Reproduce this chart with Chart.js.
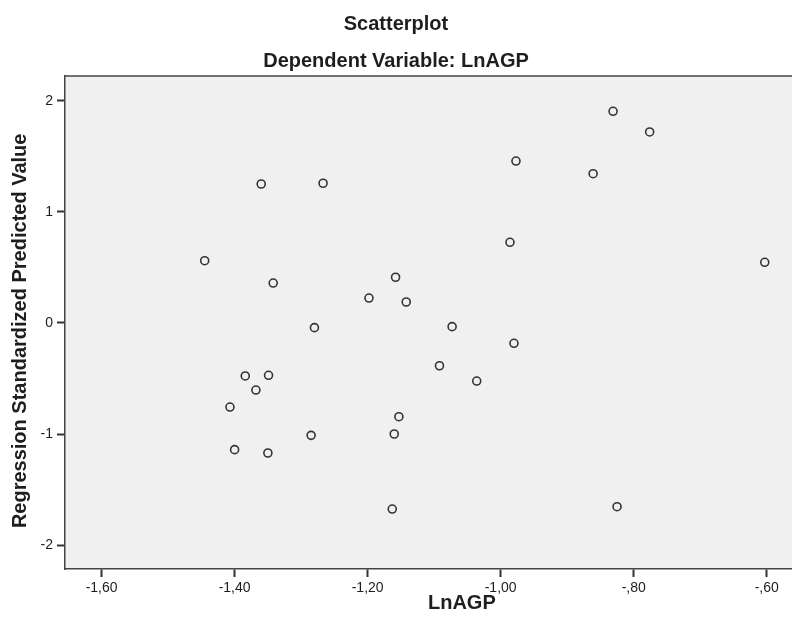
<!DOCTYPE html>
<html>
<head>
<meta charset="utf-8">
<title>Scatterplot</title>
<script src="https://cdn.jsdelivr.net/npm/chart.js@4.4.1/dist/chart.umd.min.js"></script>
<style>
    html, body { margin: 0; padding: 0; background: #ffffff; }
    #wrap { width: 792px; height: 628px; position: relative; }
</style>
</head>
<body>
<div id="wrap"><canvas id="chart"></canvas></div>
<script>
// values
var lnAGP = [-0.831, -0.776, -0.977, -0.861, -1.360, -1.267, -0.986, -1.445, -0.603, -1.158,
             -1.342, -1.198, -1.142, -1.280, -1.073, -0.980, -1.092, -1.384, -1.349, -1.036,
             -1.368, -1.407, -1.153, -1.285, -1.160, -1.400, -1.350, -1.163, -0.825];
var predicted = [1.907, 1.721, 1.459, 1.345, 1.252, 1.259, 0.727, 0.561, 0.547, 0.412,
                 0.360, 0.225, 0.189, -0.042, -0.033, -0.183, -0.385, -0.477, -0.471, -0.523,
                 -0.604, -0.757, -0.844, -1.012, -1.000, -1.141, -1.171, -1.676, -1.655];
var xTicks = [-1.6, -1.4, -1.2, -1.0, -0.8, -0.6];
var yTicks = [-2, -1, 0, 1, 2];

var points = lnAGP.map(function(x, i) {
    return { x: x, y: predicted[i] };
});

// SPSS style: comma decimals, no leading zero
var spssLabel = function(v) {
    var s = Math.abs(v).toFixed(2).replace('.', ',');
    if (s.charAt(0) === '0') s = s.substring(1);
    return (v < 0 ? '-' : '') + s;
};

var frameColor = '#444444';
var textColor = '#1e1e1e';
var fontFamily = '"Liberation Sans", Arial, sans-serif';

// grey plot background plus the top edge of the frame
var plotFrame = {
    id: 'plotFrame',
    beforeDraw: function(chart) {
        var a = chart.chartArea;
        var ctx = chart.ctx;
        ctx.save();
        ctx.fillStyle = '#f0f0f0';
        ctx.fillRect(a.left, a.top, a.right - a.left, a.bottom - a.top);
        ctx.strokeStyle = frameColor;
        ctx.lineWidth = 1.5;
        ctx.beginPath();
        ctx.moveTo(a.left, a.top);
        ctx.lineTo(a.right, a.top);
        ctx.stroke();
        ctx.restore();
    }
};

var ctx = document.getElementById('chart').getContext('2d');
var chart = new Chart(ctx, {
    type: 'scatter',
    data: {
        datasets: [
            {
                label: 'LnAGP',
                data: points,
                pointRadius: 4,
                pointHoverRadius: 4,
                pointBorderWidth: 1.6,
                pointBorderColor: '#333333',
                pointBackgroundColor: 'rgba(0,0,0,0)'
            }
        ]
    },
    plugins: [plotFrame],
    options: {
        responsive: true,
        maintainAspectRatio: false,
        animation: false,
        // the original plot runs off the right edge, so no room kept for point overflow
        layout: { padding: 0, autoPadding: false },
        scales: {
            x: {
                type: 'linear',
                min: -1.655,
                max: -0.562,
                afterBuildTicks: function(scale) {
                    scale.ticks = xTicks.map(function(v) { return { value: v }; });
                },
                afterFit: function(scale) {
                    scale.height = 59;
                    scale.paddingRight = 0;
                },
                grid: {
                    drawOnChartArea: false,
                    drawTicks: true,
                    tickLength: 8,
                    tickWidth: 2,
                    tickColor: '#333333'
                },
                border: { display: true, color: frameColor, width: 1.5 },
                ticks: {
                    padding: 3,
                    color: textColor,
                    font: { family: fontFamily, size: 14 },
                    maxRotation: 0,
                    callback: function(v) { return spssLabel(v); }
                },
                title: {
                    display: true,
                    // leading spaces push it right, the original plot was wider than the crop
                    text: '            LnAGP',
                    color: textColor,
                    font: { family: fontFamily, size: 20, weight: 'bold', lineHeight: 1.2 },
                    padding: { top: 0, bottom: 13 }
                }
            },
            y: {
                type: 'linear',
                min: -2.216,
                max: 2.225,
                afterBuildTicks: function(scale) {
                    scale.ticks = yTicks.map(function(v) { return { value: v }; });
                },
                afterFit: function(scale) {
                    scale.width = 65;
                },
                grid: {
                    drawOnChartArea: false,
                    drawTicks: true,
                    tickLength: 8,
                    tickWidth: 2,
                    tickColor: '#333333'
                },
                border: { display: true, color: frameColor, width: 1.5 },
                ticks: {
                    padding: 4,
                    color: textColor,
                    font: { family: fontFamily, size: 14 },
                    callback: function(v) { return String(v); }
                },
                title: {
                    display: true,
                    text: 'Regression Standardized Predicted Value   ',
                    color: textColor,
                    font: { family: fontFamily, size: 20, weight: 'bold', lineHeight: 1.2 },
                    padding: { top: 8, bottom: 0 }
                }
            }
        },
        plugins: {
            legend: { display: false },
            tooltip: { enabled: false },
            title: {
                display: true,
                text: 'Scatterplot',
                color: textColor,
                font: { family: fontFamily, size: 20, weight: 'bold', lineHeight: 1.2 },
                padding: { top: 12, bottom: 7 }
            },
            subtitle: {
                display: true,
                text: 'Dependent Variable: LnAGP',
                color: textColor,
                font: { family: fontFamily, size: 20, weight: 'bold', lineHeight: 1.2 },
                padding: { top: 6, bottom: 3 }
            }
        }
    }
});
</script>
</body>
</html>
